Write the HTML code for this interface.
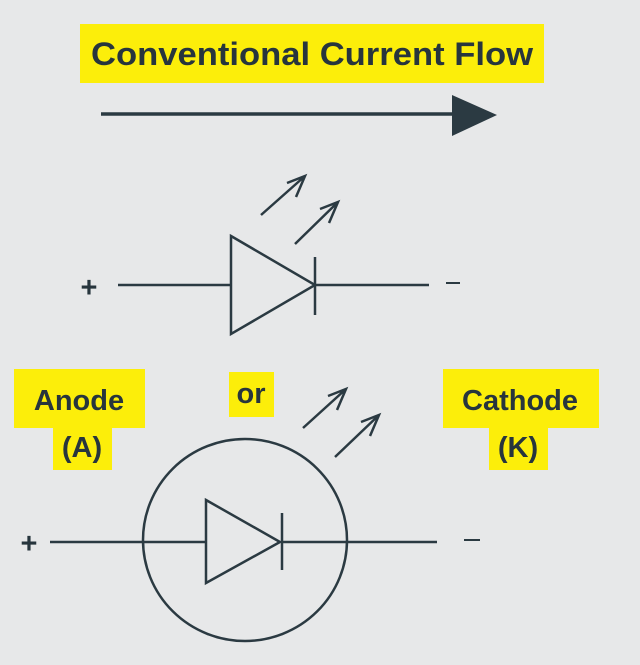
<!DOCTYPE html>
<html><head><style>
body{margin:0;width:640px;height:660px;background:#e7e8e9;overflow:hidden}
</style></head><body>
<svg width="640" height="660" viewBox="0 0 640 660" xmlns="http://www.w3.org/2000/svg" font-family="Liberation Sans, sans-serif" font-weight="bold" fill="#27353d">
<rect width="640" height="660" fill="#e7e8e9"/>
<g fill="#fcee0a">
<rect x="80" y="24" width="464" height="59"/>
<rect x="14" y="369" width="131" height="59"/>
<rect x="53" y="428" width="59" height="42"/>
<rect x="229" y="372" width="45" height="45"/>
<rect x="443" y="369" width="156" height="59"/>
<rect x="489" y="428" width="59" height="42"/>
</g>
<g font-size="29" text-anchor="middle">
<text x="312" y="65" font-size="32" textLength="442" lengthAdjust="spacingAndGlyphs">Conventional Current Flow</text>
<text x="79" y="410">Anode</text>
<text x="82" y="457">(A)</text>
<text x="251" y="403">or</text>
<text x="520" y="410">Cathode</text>
<text x="518" y="457">(K)</text>
<text x="89" y="297">+</text>
<text x="29" y="553">+</text>
</g>
<g stroke="#2b3a42" fill="none" stroke-width="2.5">
<line x1="101" y1="114" x2="455" y2="114" stroke-width="3.5"/>
<line x1="118" y1="285" x2="230" y2="285"/>
<polygon points="231,236 315,285 231,334"/>
<line x1="315" y1="257" x2="315" y2="315"/>
<line x1="315" y1="285" x2="429" y2="285"/>
<line x1="446" y1="283" x2="460" y2="283" stroke-width="2"/>
<path d="M261,215 L305,176 M287,183 L305,176 L296,197"/>
<path d="M295,244 L338,202 M320,209 L338,202 L329,223"/>
<ellipse cx="245" cy="540" rx="102" ry="101"/>
<line x1="50" y1="542" x2="205" y2="542"/>
<polygon points="206,500 280,542 206,583"/>
<line x1="282" y1="513" x2="282" y2="570"/>
<line x1="282" y1="542" x2="437" y2="542"/>
<line x1="464" y1="540" x2="480" y2="540" stroke-width="2"/>
<path d="M303,428 L346,389 M328,396 L346,389 L337,410"/>
<path d="M335,457 L379,415 M361,422 L379,415 L370,436"/>
</g>
<polygon points="452,95 497,115 452,136" fill="#2b3a42"/>
</svg>
</body></html>
